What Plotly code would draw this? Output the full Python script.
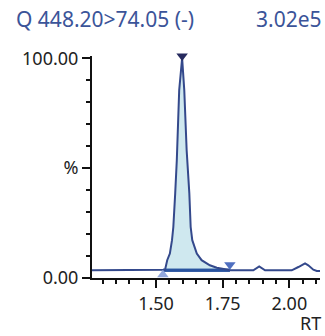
import plotly.graph_objects as go

# Chromatogram data (RT in min, intensity in %)
rt = [1.26, 1.50, 1.525, 1.534, 1.542, 1.552, 1.560, 1.565, 1.572, 1.578, 1.587,
      1.598, 1.606, 1.615, 1.625, 1.630, 1.636, 1.653, 1.671, 1.702, 1.728, 1.759,
      1.78, 1.865, 1.887, 1.909, 2.009, 2.034, 2.046, 2.059, 2.071, 2.090, 2.103, 2.115]
intensity = [3.5, 3.5, 3.5, 3.8, 8.1, 11.1, 17.2, 23.2, 38.5, 53.6, 85.5,
             100.0, 85.5, 58.0, 38.5, 23.2, 17.2, 11.1, 8.1, 5.8, 4.7, 3.8,
             3.5, 3.5, 5.3, 3.5, 3.5, 5.0, 5.8, 6.6, 5.8, 3.8, 3.2, 3.2]

peak_start_rt, peak_start_val = 1.526, 3.5
peak_end_rt, peak_end_val = 1.777, 3.5
apex_rt, apex_val = 1.598, 100.0

title_left = "Q 448.20>74.05 (-)"
title_right = "3.02e5"
x_ticks = [1.50, 1.75, 2.00]
x_ticklabels = ["1.50", "1.75", "2.00"]
y_ticks = [0, 50, 100]
y_ticklabels = ["0.00", "%", "100.00"]

font = "Noto Sans"
fs = 18
fs_title = 21

# peak segment for fill
seg_rt = [r for r in rt if peak_start_rt <= r <= peak_end_rt]
seg_val = [v for r, v in zip(rt, intensity) if peak_start_rt <= r <= peak_end_rt]
seg_rt = [peak_start_rt] + seg_rt + [peak_end_rt]
seg_val = [peak_start_val] + seg_val + [peak_end_val]

fig = go.Figure()
fig.add_trace(go.Scatter(x=[peak_start_rt, peak_end_rt], y=[peak_start_val, peak_end_val],
                         mode="lines", line=dict(color="#2a54a0", width=3),
                         hoverinfo="skip", showlegend=False))
fig.add_trace(go.Scatter(x=seg_rt, y=seg_val, mode="lines", fill="tonexty",
                         fillcolor="#cfe8ef", line=dict(width=0),
                         hoverinfo="skip", showlegend=False))
fig.add_trace(go.Scatter(x=[peak_start_rt, peak_end_rt], y=[peak_start_val, peak_end_val],
                         mode="lines", line=dict(color="#2a54a0", width=3),
                         hoverinfo="skip", showlegend=False))
fig.add_trace(go.Scatter(x=rt, y=intensity, mode="lines",
                         line=dict(color="#34498c", width=2),
                         showlegend=False))
fig.add_trace(go.Scatter(x=[apex_rt], y=[apex_val + 1.0], mode="markers",
                         marker=dict(symbol="triangle-down", size=10, color="#262a5e"),
                         cliponaxis=False, showlegend=False))
fig.add_trace(go.Scatter(x=[peak_end_rt], y=[peak_end_val + 2.5], mode="markers",
                         marker=dict(symbol="triangle-down", size=10, color="#4f6fc0"),
                         cliponaxis=False, showlegend=False))
fig.add_trace(go.Scatter(x=[peak_start_rt], y=[peak_start_val - 2.0], mode="markers",
                         marker=dict(symbol="triangle-up", size=10, color="#93a8dc"),
                         cliponaxis=False, showlegend=False))

fig.update_layout(
    width=325, height=336,
    margin=dict(l=92, r=5, t=56, b=58),
    paper_bgcolor="white", plot_bgcolor="white",
    font=dict(family=font, size=fs, color="#222222"),
    annotations=[
        dict(text=title_left, x=0, xref="paper", xanchor="left", xshift=-78,
             y=1, yref="paper", yanchor="middle", yshift=37,
             showarrow=False, font=dict(color="#3b5499", size=fs_title, family=font)),
        dict(text=title_right, x=1, xref="paper", xanchor="right", xshift=4,
             y=1, yref="paper", yanchor="middle", yshift=37,
             showarrow=False, font=dict(color="#3b5499", size=fs_title, family=font)),
        dict(text="RT", x=1, xref="paper", xanchor="right", xshift=3,
             y=0, yref="paper", yanchor="middle", yshift=-45,
             showarrow=False, font=dict(color="#222222", size=fs, family=font)),
    ],
)
fig.update_xaxes(
    range=[1.26, 2.115], showgrid=False, zeroline=False,
    showline=True, linecolor="#111111", linewidth=2,
    tickmode="array", tickvals=x_ticks, ticktext=x_ticklabels,
    ticks="outside", ticklen=8, tickwidth=2, tickcolor="#111111",
    minor=dict(tickmode="linear", tick0=1.30, dtick=0.05, ticks="outside",
               ticklen=4, tickwidth=2, tickcolor="#111111"),
)
fig.update_yaxes(
    range=[0, 101], showgrid=False, zeroline=False,
    showline=True, linecolor="#111111", linewidth=2,
    tickmode="array", tickvals=y_ticks, ticktext=y_ticklabels,
    ticks="outside", ticklen=8, tickwidth=2, tickcolor="#111111",
    minor=dict(tickmode="linear", tick0=0, dtick=10, ticks="outside",
               ticklen=4, tickwidth=2, tickcolor="#111111"),
)

fig.write_html("out.html")
